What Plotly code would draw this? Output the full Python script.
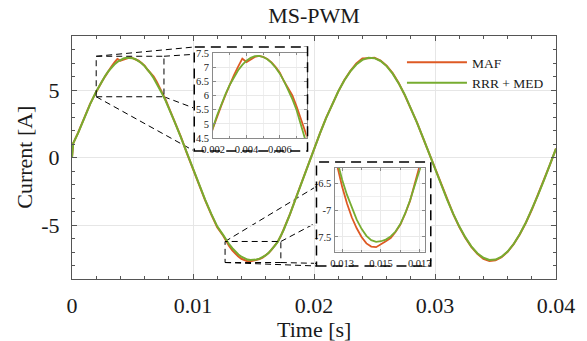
import plotly.graph_objects as go

# ---------------- data ----------------
time_s = [0, 0.0001, 0.0005, 0.001, 0.0015,
          0.002, 0.00225, 0.0025, 0.00275, 0.003, 0.00325, 0.0035, 0.00375, 0.004, 0.00425,
          0.0045, 0.00475, 0.005, 0.00525, 0.0055, 0.00575, 0.006, 0.00625, 0.0065, 0.00675,
          0.007, 0.00725, 0.0075, 0.00775, 0.008,
          0.0085, 0.009, 0.0095, 0.01, 0.0105, 0.011, 0.0115, 0.012,
          0.0125, 0.01275, 0.013, 0.01325, 0.0135, 0.01375, 0.014, 0.01425, 0.0145, 0.01475,
          0.015, 0.01525, 0.0155, 0.01575, 0.016, 0.01625, 0.0165, 0.01675, 0.017, 0.01725, 0.0175,
          0.018, 0.0185, 0.019, 0.0195, 0.02, 0.0205, 0.021, 0.0215, 0.022, 0.0225, 0.023, 0.0235,
          0.024, 0.0245, 0.025, 0.0255, 0.026, 0.0265, 0.027, 0.0275, 0.028, 0.0285, 0.029, 0.0295,
          0.03, 0.0305, 0.031, 0.0315, 0.032, 0.0325, 0.033, 0.0335, 0.034, 0.0345, 0.035, 0.0355,
          0.036, 0.0365, 0.037, 0.0375, 0.038, 0.0385, 0.039, 0.0395, 0.04]

maf = [0.0, 1.05, 1.83, 2.90, 3.97,
       4.86, 5.30, 5.66, 6.03, 6.40, 6.72, 7.02, 7.30, 7.18, 7.26,
       7.36, 7.40, 7.36, 7.29, 7.17, 7.00, 6.80, 6.50, 6.27, 6.00,
       5.62, 5.18, 4.70, 4.24, 3.70,
       2.63, 1.52, 0.30, -0.88, -2.03, -3.15, -4.20, -5.16,
       -5.80, -6.20, -6.57, -6.88, -7.14, -7.34, -7.50, -7.62, -7.68, -7.69,
       -7.64, -7.58, -7.52, -7.41, -7.27, -7.07, -6.83, -6.54, -6.24, -5.84, -5.34,
       -4.24, -3.00, -1.76, -0.54, 0.66, 1.80, 2.93, 3.93, 4.88, 5.72, 6.40, 6.97,
       7.33, 7.36, 7.38, 7.18, 6.80, 6.25, 5.52, 4.62, 3.66, 2.62, 1.47, 0.34,
       -0.86, -2.02, -3.14, -4.18, -5.13, -5.94, -6.62, -7.14, -7.50, -7.66, -7.62, -7.38,
       -6.99, -6.42, -5.70, -4.85, -3.87, -2.80, -1.68, -0.52, 0.66]

rrr_med = [0.0, 1.05, 1.81, 2.92, 3.95,
           4.89, 5.32, 5.71, 6.06, 6.38, 6.66, 6.89, 7.08, 7.23, 7.33,
           7.39, 7.40, 7.36, 7.28, 7.15, 6.98, 6.77, 6.51, 6.21, 5.87,
           5.49, 5.09, 4.65, 4.18, 3.68,
           2.61, 1.49, 0.33, -0.85, -2.01, -3.12, -4.16, -5.10,
           -5.75, -6.12, -6.44, -6.72, -6.97, -7.18, -7.35, -7.48, -7.56, -7.59,
           -7.58, -7.55, -7.49, -7.40, -7.26, -7.06, -6.82, -6.55, -6.25, -5.85, -5.35,
           -4.23, -3.01, -1.78, -0.56, 0.65, 1.81, 2.92, 3.95, 4.89, 5.71, 6.38, 6.89,
           7.23, 7.39, 7.36, 7.15, 6.77, 6.21, 5.49, 4.65, 3.68, 2.61, 1.49, 0.33,
           -0.85, -2.01, -3.12, -4.16, -5.10, -5.90, -6.58, -7.09, -7.43, -7.59, -7.56, -7.35,
           -6.97, -6.41, -5.69, -4.84, -3.88, -2.81, -1.69, -0.53, 0.65]

assert len(time_s) == len(maf) == len(rrr_med)

series_names = ["MAF", "RRR + MED"]

x_range = [0, 0.04]
y_range = [-9, 9]
x_ticks = [0, 0.01, 0.02, 0.03, 0.04]
x_tick_text = ["0", "0.01", "0.02", "0.03", "0.04"]
y_ticks = [-5, 0, 5]
y_tick_text = ["-5", "0", "5"]
x_title = "Time [s]"
y_title = "Current [A]"
chart_title = "MS-PWM"

zoom1_x = [0.002, 0.0076]
zoom1_y = [4.5, 7.5]
zoom1_xticks = [0.002, 0.004, 0.006]
zoom1_xtext = ["0.002", "0.004", "0.006"]
zoom1_yticks = [4.5, 5, 5.5, 6, 6.5, 7, 7.5]
zoom1_ytext = ["4.5", "5", "5.5", "6", "6.5", "7", "7.5"]

zoom2_x = [0.01265, 0.01726]
zoom2_y = [-7.78, -6.22]
zoom2_xticks = [0.013, 0.015, 0.017]
zoom2_xtext = ["0.013", "0.015", "0.017"]
zoom2_yticks = [-7.5, -7, -6.5]
zoom2_ytext = ["-7.5", "-7", "-6.5"]

# ---------------- styling / geometry ----------------
W, H = 587, 341
L, R, T, B = 72, 28, 36, 62
PW, PH = W - L - R, H - T - B
FONT = "Liberation Serif"
TXT_C = "#1a1a1a"
C_MAF = "#DE5A24"
C_RRR = "#77AC30"
AX_C = "#555555"
GRID_C = "#e6e6e6"


def px(xp):
    return (xp - L) / PW


def py(yp):
    return (H - B - yp) / PH


inset1_dom = ([px(214), px(308)], [py(138), py(53)])
inset2_dom = ([px(337), px(427)], [py(252), py(168)])
box1 = (px(195), px(309), py(151), py(47))
box2 = (px(318), px(433), py(266), py(162))

fig = go.Figure()

# white backgrounds of the zoom boxes (empty subplots)
for k in ("2", "3"):
    fig.add_trace(go.Scatter(x=[], y=[], xaxis="x" + k, yaxis="y" + k,
                             showlegend=False, hoverinfo="skip"))

# main traces
for name, vals, col in [(series_names[0], maf, C_MAF), (series_names[1], rrr_med, C_RRR)]:
    fig.add_trace(go.Scatter(x=time_s, y=vals, name=name, mode="lines",
                             line=dict(color=col, width=2)))
# insets
for k in ("4", "5"):
    for name, vals, col in [(series_names[0], maf, C_MAF), (series_names[1], rrr_med, C_RRR)]:
        fig.add_trace(go.Scatter(x=time_s, y=vals, name=name, mode="lines",
                                 line=dict(color=col, width=1.8), showlegend=False,
                                 xaxis="x" + k, yaxis="y" + k))

main_ax = dict(showline=True, linecolor=AX_C, linewidth=1, mirror="ticks",
               ticks="inside", ticklen=5, tickcolor=AX_C, tickwidth=1,
               showgrid=True, gridcolor=GRID_C, gridwidth=1, zeroline=False,
               tickfont=dict(family=FONT, size=22, color=TXT_C))

inset_ax = dict(showline=True, linecolor="#8a8a8a", linewidth=1, mirror="ticks",
                ticks="inside", ticklen=3, tickcolor="#8a8a8a", tickwidth=1,
                showgrid=True, gridcolor="#e9e9e9", gridwidth=1, zeroline=False,
                tickfont=dict(family=FONT, size=10.5, color=TXT_C))

hidden_ax = dict(visible=False, range=[0, 1], fixedrange=True)

fig.update_layout(
    width=W, height=H,
    margin=dict(l=L, r=R, t=T, b=B),
    paper_bgcolor="white", plot_bgcolor="white",
    title=dict(text=chart_title, x=0.5, xref="paper", xanchor="center",
               y=1 - 15 / H, yref="container", yanchor="middle",
               font=dict(family=FONT, size=22, color=TXT_C)),
    xaxis=dict(main_ax, range=x_range, tickvals=x_ticks, ticktext=x_tick_text,
               ticklabelstandoff=7,
               minor=dict(ticks="inside", dtick=0.002, tick0=0, ticklen=3, tickcolor=AX_C)),
    yaxis=dict(main_ax, range=y_range, tickvals=y_ticks, ticktext=y_tick_text,
               ticklabelstandoff=7,
               minor=dict(ticks="inside", dtick=1, tick0=0, ticklen=3, tickcolor=AX_C)),
    xaxis2=dict(hidden_ax, domain=[box1[0], box1[1]], anchor="y2"),
    yaxis2=dict(hidden_ax, domain=[box1[2], box1[3]], anchor="x2"),
    xaxis3=dict(hidden_ax, domain=[box2[0], box2[1]], anchor="y3"),
    yaxis3=dict(hidden_ax, domain=[box2[2], box2[3]], anchor="x3"),
    xaxis4=dict(inset_ax, domain=inset1_dom[0], anchor="y4", range=zoom1_x,
                tickvals=zoom1_xticks, ticktext=zoom1_xtext, ticklabelstandoff=1,
                minor=dict(dtick=0.001, tick0=0, showgrid=True, gridcolor="#efefef",
                           ticks="inside", ticklen=2, tickcolor="#8a8a8a")),
    yaxis4=dict(inset_ax, domain=inset1_dom[1], anchor="x4", range=zoom1_y,
                tickvals=zoom1_yticks, ticktext=zoom1_ytext, ticklabelstandoff=1),
    xaxis5=dict(inset_ax, domain=inset2_dom[0], anchor="y5", range=zoom2_x,
                tickvals=zoom2_xticks, ticktext=zoom2_xtext, ticklabelstandoff=1,
                minor=dict(dtick=0.001, tick0=0, showgrid=True, gridcolor="#efefef",
                           ticks="inside", ticklen=2, tickcolor="#8a8a8a")),
    yaxis5=dict(inset_ax, domain=inset2_dom[1], anchor="x5", range=zoom2_y,
                tickvals=zoom2_yticks, ticktext=zoom2_ytext, ticklabelstandoff=1,
                minor=dict(dtick=0.25, tick0=0, showgrid=True, gridcolor="#efefef")),
    legend=dict(x=px(404), y=py(47), xanchor="left", yanchor="top",
                bgcolor="rgba(0,0,0,0)", borderwidth=0, itemwidth=60,
                font=dict(family=FONT, size=13.5, color=TXT_C),
                tracegroupgap=0),
    showlegend=True,
    annotations=[
        dict(text=x_title, xref="paper", yref="paper", x=0.5, y=py(329),
             xanchor="center", yanchor="middle", showarrow=False,
             font=dict(family=FONT, size=22, color=TXT_C)),
        dict(text=y_title, xref="paper", yref="paper", x=px(24), y=0.5,
             xanchor="center", yanchor="middle", showarrow=False, textangle=-90,
             font=dict(family=FONT, size=22, color=TXT_C)),
    ],
)


def to_paper(t, v):
    return ((t - x_range[0]) / (x_range[1] - x_range[0]),
            (v - y_range[0]) / (y_range[1] - y_range[0]))


# connector end points (paper coords) for each zoom box: TL, TR, BL, BR
targets = [
    [(box1[0], box1[3]), (box1[1], box1[3]), (box1[0], box1[2]), (box1[1], box1[2])],
    [(px(337), py(175)), (box2[1], box2[3]), (box2[0], box2[2]), (box2[1], box2[2])],
]

shapes = []
for (zx, zy, box), tgt in zip([(zoom1_x, zoom1_y, box1), (zoom2_x, zoom2_y, box2)], targets):
    corners_r = [to_paper(zx[0], zy[1]), to_paper(zx[1], zy[1]),
                 to_paper(zx[0], zy[0]), to_paper(zx[1], zy[0])]
    for (ax0, ay0), (bx0, by0) in zip(corners_r, tgt):
        shapes.append(dict(type="line", xref="paper", yref="paper", layer="below",
                           x0=ax0, y0=ay0, x1=bx0, y1=by0,
                           line=dict(color="black", width=1, dash="6px,4px")))
    shapes.append(dict(type="rect", xref="x", yref="y", layer="above",
                       x0=zx[0], x1=zx[1], y0=zy[0], y1=zy[1],
                       line=dict(color="black", width=1, dash="6px,4px")))
    shapes.append(dict(type="rect", xref="paper", yref="paper", layer="above",
                       x0=box[0], x1=box[1], y0=box[2], y1=box[3],
                       line=dict(color="black", width=1.5, dash="10px,6px")))
fig.update_layout(shapes=shapes)

fig.write_html("out.html")
